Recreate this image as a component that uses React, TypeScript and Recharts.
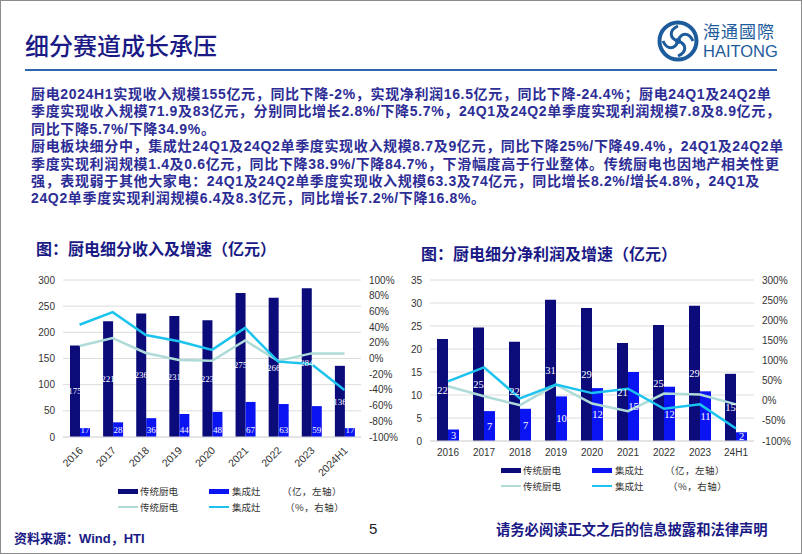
import React from 'react';
import { ComposedChart, Bar, Line, XAxis, YAxis, CartesianGrid, LabelList } from 'recharts';

// 收入（亿元）
const years = ['2016', '2017', '2018', '2019', '2020', '2021', '2022', '2023', '2024H1'];
const tradRevenue = [175, 221, 236, 231, 223, 275, 266, 284, 136];
const stoveRevenue = [17, 28, 36, 44, 48, 67, 63, 59, 17];
const tradRevenueGrowth = [0.16, 0.26, 0.07, -0.02, -0.03, 0.23, -0.03, 0.065, 0.065];
const stoveRevenueGrowth = [0.43, 0.59, 0.3, 0.22, 0.11, 0.39, -0.04, -0.07, -0.4];

// 净利润（亿元）
const profitYears = ['2016', '2017', '2018', '2019', '2020', '2021', '2022', '2023', '24H1'];
const tradProfit = [22.2, 24.7, 21.6, 30.7, 28.9, 21.3, 25.2, 29.4, 14.6];
const stoveProfit = [2.5, 6.5, 7.0, 9.7, 11.5, 15.0, 11.8, 10.8, 1.9];
const tradProfitGrowth = [0.36, 0.11, -0.11, 0.4, -0.07, -0.26, 0.18, 0.155, -0.09];
const stoveProfitGrowth = [0.48, 0.83, 0.06, 0.4, 0.19, 0.3, -0.2, -0.09, -0.69];

const revenueTicks = [0, 50, 100, 150, 200, 250, 300];
const revenuePctTicks = [-1, -0.8, -0.6, -0.4, -0.2, 0, 0.2, 0.4, 0.6, 0.8, 1];
const profitTicks = [0, 5, 10, 15, 20, 25, 30, 35];
const profitPctTicks = [-1, -0.5, 0, 0.5, 1, 1.5, 2, 2.5, 3];

const bodyLines = [
  '厨电2024H1实现收入规模155亿元，同比下降-2%，实现净利润16.5亿元，同比下降-24.4%；厨电24Q1及24Q2单',
  '季度实现收入规模71.9及83亿元，分别同比增长2.8%/下降5.7%，24Q1及24Q2单季度实现利润规模7.8及8.9亿元，',
  '同比下降5.7%/下降34.9%。',
  '厨电板块细分中，集成灶24Q1及24Q2单季度实现收入规模8.7及9亿元，同比下降25%/下降49.4%，24Q1及24Q2单',
  '季度实现利润规模1.4及0.6亿元，同比下降38.9%/下降84.7%，下滑幅度高于行业整体。传统厨电也因地产相关性更',
  '强，表现弱于其他大家电：24Q1及24Q2单季度实现收入规模63.3及74亿元，同比增长8.2%/增长4.8%，24Q1及',
  '24Q2单季度实现利润规模6.4及8.3亿元，同比增长7.2%/下降16.8%。',
];

const revenueData = years.map((year, i) => ({
  year,
  trad: tradRevenue[i],
  stove: stoveRevenue[i],
  tradG: tradRevenueGrowth[i],
  stoveG: stoveRevenueGrowth[i],
}));

const profitData = profitYears.map((year, i) => ({
  year,
  trad: tradProfit[i],
  stove: stoveProfit[i],
  tradG: tradProfitGrowth[i],
  stoveG: stoveProfitGrowth[i],
}));

const NAVY = '#0b0b7a';
const BLUE = '#0a14f2';
const CYAN = '#1cc3ee';
const TEAL = '#aedbd8';
const TEXT_BLUE = '#2d2d96';
const CJK = "'Noto Sans CJK SC', sans-serif";
const LATIN = "'Liberation Sans', Arial, 'Noto Sans CJK SC', sans-serif";

const pct = (v: number) => `${Math.round(v * 100)}%`;
const round = (v: any) => Math.round(Number(v));

const tickStyle = { fontSize: 10, fill: '#333', fontFamily: LATIN };

const RotatedTick = (props: any) => {
  const { x, y, payload } = props;
  return (
    <text
      x={x + 4}
      y={y + 6}
      transform={`rotate(-45, ${x + 4}, ${y + 6})`}
      textAnchor="end"
      fontSize={10.5}
      fill="#333"
      fontFamily={LATIN}
    >
      {payload.value}
    </text>
  );
};

const Legend = ({ left, top }: { left: number; top: number }) => {
  const txt: React.CSSProperties = {
    position: 'absolute',
    fontSize: 9.5,
    color: '#333',
    fontFamily: CJK,
    whiteSpace: 'nowrap',
    lineHeight: '12px',
  };
  const row2 = 16;
  return (
    <div style={{ position: 'absolute', left, top }}>
      <div style={{ position: 'absolute', left: 0, top: 4, width: 20, height: 5, background: NAVY }} />
      <div style={{ ...txt, left: 22, top: 0 }}>传统厨电</div>
      <div style={{ position: 'absolute', left: 91, top: 4, width: 20, height: 5, background: BLUE }} />
      <div style={{ ...txt, left: 114, top: 0 }}>集成灶</div>
      <div style={{ ...txt, left: 164, top: 0, letterSpacing: 0.5 }}>（亿，左轴）</div>
      <div style={{ position: 'absolute', left: 0, top: row2 + 5, width: 20, height: 2, background: TEAL }} />
      <div style={{ ...txt, left: 22, top: row2 }}>传统厨电</div>
      <div style={{ position: 'absolute', left: 91, top: row2 + 5, width: 20, height: 2, background: CYAN }} />
      <div style={{ ...txt, left: 114, top: row2 }}>集成灶</div>
      <div style={{ ...txt, left: 167, top: row2, letterSpacing: 0.5 }}>（%，右轴）</div>
    </div>
  );
};

const Logo = () => (
  <div style={{ position: 'absolute', left: 656, top: 19 }}>
    <svg width={42} height={42} viewBox="0 0 42 42" style={{ position: 'absolute', left: 0, top: 0 }}>
      <circle cx={21} cy={21} r={18.5} fill="none" stroke="#1d5c9c" strokeWidth={4} />
      <circle cx={21} cy={21} r={3} fill="#1d5c9c" />
      <path d="M21 6 C12 10 12 18 21 21 C30 24 30 32 21 36" fill="none" stroke="#1d5c9c" strokeWidth={3} />
      <path d="M6 21 C10 30 18 30 21 21 C24 12 32 12 36 21" fill="none" stroke="#1d5c9c" strokeWidth={3} />
    </svg>
    <div
      style={{
        position: 'absolute',
        left: 46,
        top: 1,
        fontSize: 17,
        color: '#1d5c9c',
        fontFamily: CJK,
        whiteSpace: 'nowrap',
        lineHeight: '20px',
        letterSpacing: 1,
      }}
    >
      海通國際
    </div>
    <div
      style={{
        position: 'absolute',
        left: 46,
        top: 22,
        fontSize: 16.5,
        color: '#1d5c9c',
        fontFamily: LATIN,
        whiteSpace: 'nowrap',
        lineHeight: '18px',
      }}
    >
      HAITONG
    </div>
  </div>
);

export default function App() {
  return (
    <div
      style={{
        position: 'absolute',
        left: 0,
        top: 0,
        width: 802,
        height: 554,
        boxSizing: 'border-box',
        border: '1px solid #8c8c8c',
        background: '#fff',
        overflow: 'hidden',
      }}
    >
      {/* 标题 */}
      <div
        style={{
          position: 'absolute',
          left: 24,
          top: 29,
          fontSize: 24,
          lineHeight: '30px',
          color: '#1a1a86',
          fontFamily: CJK,
          fontWeight: 500,
          whiteSpace: 'nowrap',
        }}
      >
        细分赛道成长承压
      </div>
      <Logo />
      <div style={{ position: 'absolute', left: 24, top: 68, width: 752, height: 2, background: '#2e64b0' }} />

      {/* 正文 */}
      {bodyLines.map((line, i) => (
        <div
          key={i}
          style={{
            position: 'absolute',
            left: 30,
            top: 84 + i * 17.4,
            fontSize: 14,
            lineHeight: '18px',
            fontWeight: 700,
            letterSpacing: 0.65,
            color: TEXT_BLUE,
            fontFamily: LATIN,
            whiteSpace: 'nowrap',
          }}
        >
          {line}
        </div>
      ))}

      {/* 图表标题 */}
      <div
        style={{
          position: 'absolute',
          left: 35,
          top: 237,
          fontSize: 16,
          lineHeight: '20px',
          fontWeight: 700,
          color: '#1a1a86',
          fontFamily: CJK,
          whiteSpace: 'nowrap',
        }}
      >
        图：厨电细分收入及增速（亿元）
      </div>
      <div
        style={{
          position: 'absolute',
          left: 420,
          top: 242,
          fontSize: 16,
          lineHeight: '20px',
          fontWeight: 700,
          color: '#1a1a86',
          fontFamily: CJK,
          whiteSpace: 'nowrap',
        }}
      >
        图：厨电细分净利润及增速（亿元）
      </div>

      {/* 左图：收入 */}
      <div style={{ position: 'absolute', left: 0, top: 265 }}>
        <ComposedChart
          width={400}
          height={235}
          data={revenueData}
          margin={{ top: 14, right: 0, bottom: 0, left: 0 }}
          barGap={0}
        >
          <CartesianGrid yAxisId="left" vertical={false} stroke="#dcdcdc" />
          <XAxis
            dataKey="year"
            height={64}
            interval={0}
            tickLine={false}
            axisLine={{ stroke: '#dcdcdc' }}
            tick={<RotatedTick />}
          />
          <YAxis
            yAxisId="left"
            width={62}
            domain={[0, 300]}
            ticks={revenueTicks}
            interval={0}
            tickLine={false}
            axisLine={false}
            tick={tickStyle}
          />
          <YAxis
            yAxisId="right"
            orientation="right"
            width={40}
            domain={[-1, 1]}
            ticks={revenuePctTicks}
            interval={0}
            tickFormatter={pct}
            tickLine={false}
            axisLine={false}
            tick={{ ...tickStyle, textAnchor: 'start' }}
          />
          <Bar yAxisId="left" dataKey="trad" fill={NAVY} barSize={10} isAnimationActive={false}>
            <LabelList dataKey="trad" position="center" fill="#fff" fontSize={9} formatter={round} />
          </Bar>
          <Bar yAxisId="left" dataKey="stove" fill={BLUE} barSize={10} isAnimationActive={false}>
            <LabelList dataKey="stove" position="insideBottom" offset={4} fill="#fff" fontSize={9} formatter={round} />
          </Bar>
          <Line yAxisId="right" dataKey="tradG" stroke={TEAL} strokeWidth={2.5} dot={false} isAnimationActive={false} />
          <Line yAxisId="right" dataKey="stoveG" stroke={CYAN} strokeWidth={2.5} dot={false} isAnimationActive={false} />
        </ComposedChart>
      </div>

      {/* 右图：净利润 */}
      <div style={{ position: 'absolute', left: 400, top: 265 }}>
        <ComposedChart
          width={402}
          height={200}
          data={profitData}
          margin={{ top: 14, right: 0, bottom: 0, left: 0 }}
          barGap={0}
        >
          <CartesianGrid yAxisId="left" vertical={false} stroke="#dcdcdc" />
          <XAxis
            dataKey="year"
            height={25}
            interval={0}
            tickLine={false}
            axisLine={{ stroke: '#dcdcdc' }}
            tick={tickStyle}
          />
          <YAxis
            yAxisId="left"
            width={29}
            domain={[0, 35]}
            ticks={profitTicks}
            interval={0}
            tickLine={false}
            axisLine={false}
            tick={tickStyle}
          />
          <YAxis
            yAxisId="right"
            orientation="right"
            width={49}
            domain={[-1, 3]}
            ticks={profitPctTicks}
            interval={0}
            tickFormatter={pct}
            tickLine={false}
            axisLine={false}
            tick={{ ...tickStyle, textAnchor: 'start' }}
          />
          <Bar yAxisId="left" dataKey="trad" fill={NAVY} barSize={11} isAnimationActive={false}>
            <LabelList dataKey="trad" position="center" fill="#fff" fontSize={10.5} formatter={round} />
          </Bar>
          <Bar yAxisId="left" dataKey="stove" fill={BLUE} barSize={11} isAnimationActive={false}>
            <LabelList dataKey="stove" position="center" fill="#fff" fontSize={10.5} formatter={round} />
          </Bar>
          <Line yAxisId="right" dataKey="tradG" stroke={TEAL} strokeWidth={2.5} dot={false} isAnimationActive={false} />
          <Line yAxisId="right" dataKey="stoveG" stroke={CYAN} strokeWidth={2.5} dot={false} isAnimationActive={false} />
        </ComposedChart>
      </div>

      <Legend left={117} top={484} />
      <Legend left={500} top={463} />

      {/* 页脚 */}
      <div
        style={{
          position: 'absolute',
          left: 13,
          top: 530,
          fontSize: 13,
          lineHeight: '16px',
          fontWeight: 700,
          color: '#1a1a86',
          fontFamily: LATIN,
          whiteSpace: 'nowrap',
        }}
      >
        资料来源：Wind，HTI
      </div>
      <div
        style={{
          position: 'absolute',
          left: 368,
          top: 519,
          fontSize: 15,
          lineHeight: '18px',
          color: '#222',
          fontFamily: LATIN,
        }}
      >
        5
      </div>
      <div
        style={{
          position: 'absolute',
          left: 495,
          top: 519,
          fontSize: 14.3,
          lineHeight: '18px',
          fontWeight: 700,
          color: '#1a1a86',
          fontFamily: CJK,
          whiteSpace: 'nowrap',
        }}
      >
        请务必阅读正文之后的信息披露和法律声明
      </div>
    </div>
  );
}
